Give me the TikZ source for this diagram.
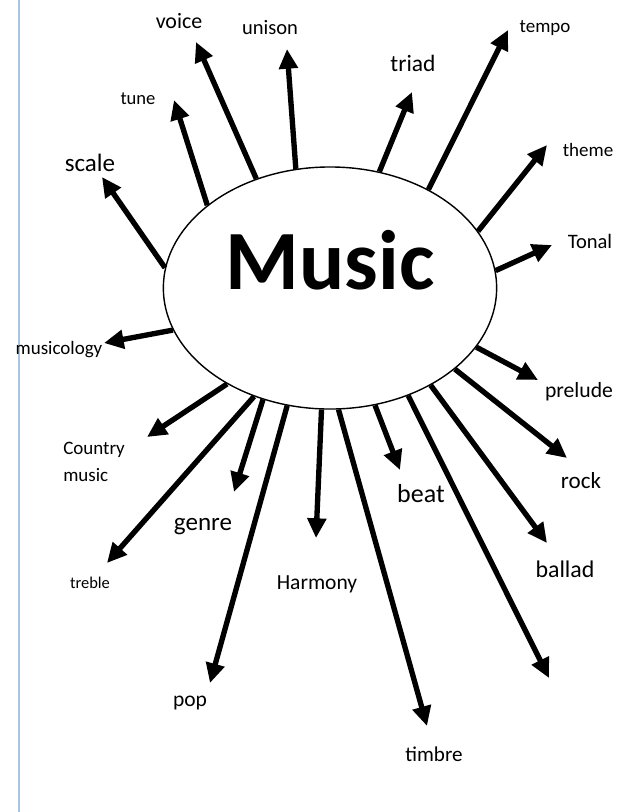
\documentclass[tikz,border=0pt]{standalone}
\usepackage{fontspec}
\setmainfont{Carlito}
\usetikzlibrary{arrows.meta,shapes.geometric}
\definecolor{pageedge}{RGB}{170,196,226}

\begin{document}
\begin{tikzpicture}[x=0.025cm, y=-0.025cm,
    arr/.style={line width=3.8pt, -{Triangle[length=14pt, width=13pt]}},
    lbl/.style={inner sep=0pt, font=\fontsize{#1}{#1}\selectfont}]
\useasboundingbox (0,0) rectangle (640,812);
\draw[line width=1pt, pageedge] (19,0) -- (19,812);

\node[ellipse, draw, line width=1pt, inner sep=0pt, minimum width=8.33cm, minimum height=6.05cm,
      font=\fontsize{60}{60}\selectfont\bfseries] (music) at (330,288) {\raisebox{-1pt}[0pt][0pt]{Music}};

% words round the ellipse
\node[lbl=17.8] (scale) at (90,163) {scale};
\node[lbl=13.2] (tune) at (138,99) {tune};
\node[lbl=15.6] (voice) at (179,21) {voice};
\node[lbl=14.6] (unison) at (270,28) {unison};
\node[lbl=16.7] (triad) at (413,63) {triad};
\node[lbl=13.5] (tempo) at (545,28) {tempo};
\node[lbl=13.5] (theme) at (588,150) {theme};
\node[lbl=14.6] (tonal) at (590,241) {Tonal};
\node[lbl=15.4] (prelude) at (579,392) {prelude};
\node[lbl=16.4] (rock) at (581,481) {rock};
\node[lbl=17] (ballad) at (565,569) {ballad};
\node[lbl=18.5] (beat) at (421,494) {beat};
\node[lbl=15] (timbre) at (434,754) {timbre};
\node[lbl=15.3] (harmony) at (317,584) {Harmony};
\node[lbl=15.3] (pop) at (190,703) {pop};
\node[lbl=17.8] (genre) at (203,527) {genre};
\node[lbl=11.7] (treble) at (90,583) {treble};
\node[inner sep=0pt, anchor=west, align=left, font=\fontsize{13.5}{19.5}\selectfont] (country) at (63,462) {Country\\music};
\node[lbl=13.5] (musicology) at (59,350) {musicology};

% arrow tips
\coordinate (t-scale) at (102,177);
\coordinate (t-tune) at (174,100);
\coordinate (t-voice) at (196,42);
\coordinate (t-unison) at (287,49);
\coordinate (t-triad) at (412,92);
\coordinate (t-tempo) at (508,30);
\coordinate (t-theme) at (547,145);
\coordinate (t-tonal) at (552,245);
\coordinate (t-prelude) at (538,380);
\coordinate (t-rock) at (567,458);
\coordinate (t-ballad) at (547,543);
\coordinate (t-long) at (549,678);
\coordinate (t-beat) at (400,470);
\coordinate (t-timbre) at (427,726);
\coordinate (t-harmony) at (316,538);
\coordinate (t-pop) at (210,683);
\coordinate (t-genre) at (234,492);
\coordinate (t-treble) at (107,563);
\coordinate (t-country) at (147,437);
\coordinate (t-musicology) at (104,343);

\draw[arr] (music.173) -- (t-scale);
\draw[arr] (music.146.6) -- (t-tune);
\draw[arr] (music.124.9) -- (t-voice);
\draw[arr] (music.106.7) -- (t-unison);
\draw[arr] (music.67.5) -- (t-triad);
\draw[arr] (music.45.3) -- (t-tempo);
\draw[arr] (music.21.5) -- (t-theme);
\draw[arr] (music.6.4) -- (t-tonal);
\draw[arr] (music.-22.9) -- (t-prelude);
\draw[arr] (music.-33.9) -- (t-rock);
\draw[arr] (music.-44.1) -- (t-ballad);
\draw[arr] (music.-54.3) -- (t-long);
\draw[arr] (music.-69.4) -- (t-beat);
\draw[arr] (music.-86.3) -- (t-timbre);
\draw[arr] (music.-94.3) -- (t-harmony);
\draw[arr] (music.-110.9) -- (t-pop);
\draw[arr] (music.-121.1) -- (t-genre);
\draw[arr] (music.-125.9) -- (t-treble);
\draw[arr] (music.-137.9) -- (t-country);
\draw[arr] (music.-165.8) -- (t-musicology);
\end{tikzpicture}
\end{document}
